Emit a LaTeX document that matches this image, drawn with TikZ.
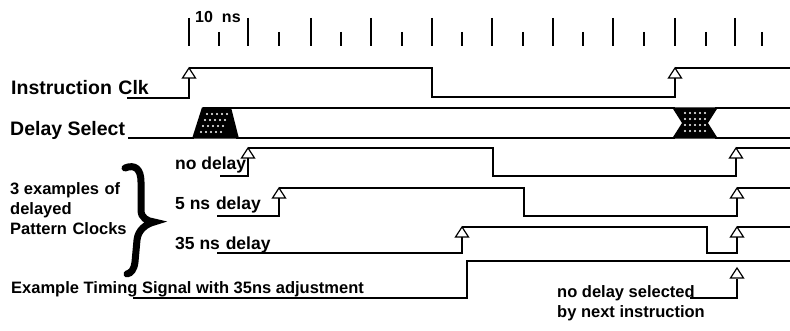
\documentclass[tikz,border=0pt]{standalone}
\usepackage{fontspec}
\setmainfont{Liberation Sans}
\begin{document}
\begin{tikzpicture}[x=1pt,y=-1pt,
  sig/.style={line width=1.4pt, line join=miter},
  tick/.style={line width=1.3pt},
  lbl/.style={anchor=base west, inner sep=0pt, font=\fontsize{16.5}{19}\selectfont\bfseries},
  midlbl/.style={lbl, font=\fontsize{17.5}{20}\selectfont\bfseries},
  biglbl/.style={lbl, font=\fontsize{19.5}{22}\selectfont\bfseries},
  tri/.style={draw, line width=1.2pt, fill=white, line join=miter},
  hole/.style={fill=white}]
\useasboundingbox (0,0) rectangle (790,331);
% time ticks
\foreach \x [count=\k from 0] in {189,219,248,279,311,341,371,402,432,462,492,523,553,583,613,644,675,706,735,762}{
  \pgfmathparse{int(mod(\k,2))}
  \ifnum\pgfmathresult=0
    \draw[tick] (\x,18) -- (\x,46);
  \else
    \draw[tick] (\x,32) -- (\x,46);
  \fi
}
\node[lbl, font=\fontsize{16}{18}\selectfont\bfseries] (tenns) at (195,23) {10\hspace{9pt}ns};
% labels
\node[biglbl] (clk) at (11,95) {Instruction\,\,Clk};
\node[biglbl] (dsel) at (10,136) {Delay Select};
\node[midlbl] (nod) at (175,170) {no delay};
\node[lbl] (ex1) at (10,195) {3 examples\,\,of};
\node[lbl] (ex2) at (10,215) {delayed};
\node[lbl] (ex3) at (10,235) {Pattern\,\,Clocks};
\node[midlbl] (d5) at (175,210) {5 ns\,\,delay};
\node[midlbl] (d35) at (175,250) {35 ns\,\,delay};
\node[lbl] (exs) at (11,294) {Example Timing Signal with 35ns adjustment};
\node[lbl] (nds1) at (557,297) {no delay selected};
\node[lbl] (nds2) at (557,317) {by next instruction};
% rising-edge marker
\newcommand{\edgemark}[2]{\draw[tri] (#1,#2) -- (#1-6.5,#2+10) -- (#1+6.5,#2+10) -- cycle;}
% Instruction Clk
\draw[sig] (127,98) -- (189,98) -- (189,78) (189,68) -- (432,68) -- (432,97) -- (675,97) -- (675,78) (675,68) -- (790,68);
\edgemark{189}{68}\edgemark{675}{68}
% Delay Select
\draw[sig] (128,138) -- (194,138) (236,138) -- (675,138) (203,108) -- (675,108) (715,108) -- (790,108) (715,138) -- (790,138);
\fill (192,138.7) -- (202,107.3) -- (231,107.3) -- (239,138.7) -- cycle;
\foreach \yy/\dx in {114/3,120/1,126/-1,132/-3}{\foreach \xx in {203,208,213,218,223}{\fill[hole] (\xx+\dx+1,\yy) circle (1.1);}}
\fill (672,107.3) -- (718,107.3) -- (708,123) -- (718,138.7) -- (672,138.7) -- (682,123) -- cycle;
\foreach \yy in {113,119,125,131}{\foreach \xx in {686,691,696,701,706}{\fill[hole] (\xx-1,\yy) circle (1.1);}}
% no delay
\draw[sig] (220,176) -- (248,176) -- (248,158) (248,148) -- (493,148) -- (493,176) -- (736,176) -- (736,158) (736,148) -- (790,148);
\edgemark{248}{148}\edgemark{736}{148}
% 5 ns delay
\draw[sig] (217,216) -- (279,216) -- (279,198) (279,188) -- (524,188) -- (524,216) -- (737,216) -- (737,198) (737,188) -- (790,188);
\edgemark{279}{188}\edgemark{737}{188}
% 35 ns delay
\draw[sig] (217,253) -- (462,253) -- (462,237) (462,227) -- (707,227) -- (707,253) -- (737,253) -- (737,237) (737,227) -- (790,227);
\edgemark{462}{227}\edgemark{737}{227}
% Example timing signal
\draw[sig] (133,298) -- (467,298) -- (467,261) -- (790,261);
% no delay selected
\draw[sig] (690,298) -- (737,298) -- (737,279);
\edgemark{737}{268}
% brace
\draw[line width=7pt, line cap=round] (125,168) .. controls (135,164) and (141,169) .. (141,182) -- (141,210) .. controls (141,218) and (147,221) .. (154,222) .. controls (146,224) and (138,230) .. (137,240) -- (135,262) .. controls (134,270) and (131,273) .. (127,274);
\end{tikzpicture}
\end{document}
